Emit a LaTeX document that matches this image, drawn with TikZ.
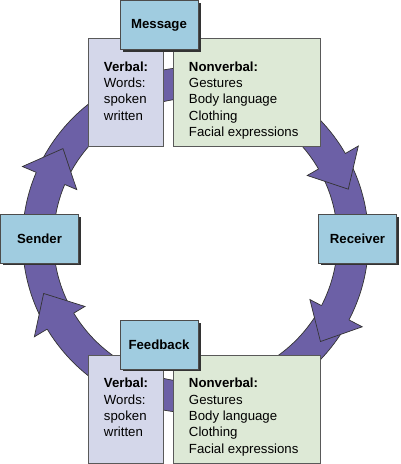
\documentclass[tikz,border=0pt]{standalone}
\usepackage{fontspec}
\setmainfont{Liberation Sans}
\usetikzlibrary{calc,shadows}
\definecolor{hubblue}{RGB}{160,204,224}
\definecolor{verblav}{RGB}{212,215,234}
\definecolor{nvgreen}{RGB}{221,233,214}
\definecolor{ringpurple}{RGB}{108,96,166}
\newcommand{\lbl}{\fontsize{9.4}{11.6}\selectfont}
\tikzset{
  ring/.style={fill=ringpurple},                        % arrow band
  rim/.style={draw=black!80,line width=0.5pt},          % band outline
  hub/.style={draw=gray!60!black,fill=hubblue,minimum width=1.95cm,minimum height=1.22cm,
    font=\lbl\bfseries,general shadow={fill=gray!40!black,shadow xshift=1.8pt,shadow yshift=-1.8pt}},
  verbbox/.style={draw=gray!70!black,fill=verblav,minimum width=1.875cm,minimum height=2.7cm,
    general shadow={fill=gray!50!black,shadow xshift=1pt,shadow yshift=-1pt}},
  nvbox/.style={draw=gray!70!black,fill=nvgreen,minimum width=3.675cm,minimum height=2.7cm,
    general shadow={fill=gray!50!black,shadow xshift=1pt,shadow yshift=-1pt}},
  txt/.style={anchor=north west,inner sep=0pt,align=left,font=\lbl},
}

\begin{document}
\begin{tikzpicture}[x=0.025cm,y=0.025cm]
  \useasboundingbox (0,0) rectangle (400,464);
  \coordinate (c) at (195.5,224);
  % band and heads
  \fill[ring,even odd rule] (c) circle (173) (c) circle (142);
  \draw[rim] (c) circle (173); \draw[rim] (c) circle (142);
  \foreach \a/\b in {157/145.4,30/18.4,-27.5/-39.1,211/199.4}{
    \fill[ring] ([shift={(\a:129)}]c) -- ([shift={(\a:188)}]c) -- ([shift={(\b:161)}]c) -- cycle;
    \draw[rim] ([shift={(\a:173)}]c) -- ([shift={(\a:188)}]c) -- ([shift={(\b:161)}]c)
      -- ([shift={(\a:129)}]c) -- ([shift={(\a:142)}]c);
  }
  % top
  \node[verbbox] (vtop) at (125.5,372) {};
  \node[nvbox] (ntop) at (246.5,372) {};
  \node[txt] (vtopt) at ($(vtop.north west)+(16,-23.7)$) {\textbf{Verbal:}\\Words:\\spoken\\written};
  \node[txt] (ntopt) at ($(ntop.north west)+(16,-23.7)$) {\textbf{Nonverbal:}\\Gestures\\Body language\\Clothing\\Facial expressions};
  \node[hub] (msg) at (159,439) {Message};
  % sides
  \node[hub] (snd) at (39.5,225.5) {Sender};
  \node[hub] (rcv) at (357.5,225.5) {Receiver};
  % bottom
  \node[verbbox] (vbot) at (125.5,55) {};
  \node[nvbox] (nbot) at (246.5,55) {};
  \node[txt] (vbott) at ($(vbot.north west)+(16,-23.3)$) {\textbf{Verbal:}\\Words:\\spoken\\written};
  \node[txt] (nbott) at ($(nbot.north west)+(16,-23.3)$) {\textbf{Nonverbal:}\\Gestures\\Body language\\Clothing\\Facial expressions};
  \node[hub] (fb) at (159,119.5) {Feedback};
\end{tikzpicture}
\end{document}
